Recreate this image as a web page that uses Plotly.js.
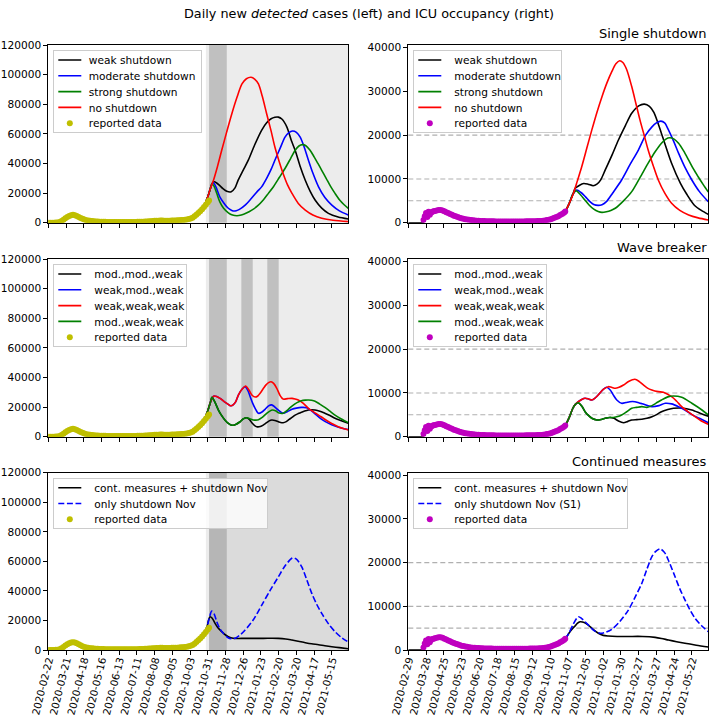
<!DOCTYPE html>
<html><head><meta charset="utf-8">
<script src="https://cdn.plot.ly/plotly-3.0.1.min.js"></script>
<style>html,body{margin:0;padding:0;background:#fff;}#chart{width:709px;height:721px;}</style>
</head><body><div id="chart"></div>
<script>
// ---------- dates ----------
const CASES_BASE = '2020-02-22';   // left column, days counted from here
const ICU_BASE = '2020-02-29';     // right column, days counted from here
const CASES_END = '2021-06-10';
const ICU_END = '2021-06-17';

// ---------- intervention periods (left panels) ----------
const modelStart = '2020-10-28';
const shutdownNov = ['2020-11-02', '2020-11-30'];
const waveBreakerExtra = [['2020-12-23', '2021-01-10'], ['2021-02-02', '2021-02-20']];
const continuedStart = '2020-11-02';
const icuLevels = [5000, 10000, 20000];

// ---------- reported data ----------
const reportedCasesDays = [0,3,6,9,12,15,18,21,24,27, 30,33,36,39,42,45,48,51,54,57, 60,63,66,69,72,75,78,81,84,87,
  90,93,96,99,102,105,108,111,114,117, 120,123,126,129,132,135,138,141,144,147, 150,153,156,159,162,165,168,171,174,177,
  180,183,186,189,192,195,198,201,204,207, 210,213,216,219,222,225,228,231,234,237, 240,243,246,249,252,254];
const reportedCases = [0,10,20,50,150,200,500,1100,2000,3000, 3900,4600,5100,5300,5100,4600,3900,3200,2600,2100, 1700,1450,1250,1100,950,850,780,700,640,600,
  560,520,500,480,470,460,450,460,480,500, 520,500,480,470,480,500,520,560,600,650, 700,780,860,950,1050,1150,1250,1350,1400,1450,
  1450,1400,1350,1350,1400,1450,1500,1550,1600,1700, 1800,1900,2000,2200,2500,2900,3300,4300,5400,6600, 7800,9100,10600,12200,13800,15000];

const reportedIcuDays = [24,26,28,30,32,34,36,38,40,42, 45,48,51,54,57,60,63,66,69,72, 75,78,81,84,87,90,93,96,99,102,
  105,108,111,114,117,120,123,126,129,132, 135,138,141,144,147,150,153,156,159,162, 165,168,171,174,177,180,183,186,189,192,
  195,198,201,204,207,210,213,216,219,222, 225,228,231,234,237,240,243,246,248];
const reportedIcu = [600,1500,2200,1300,2500,1800,2300,2500,2600,2700, 2800,2900,2900,2800,2600,2400,2200,2000,1800,1600, 1450,1300,1150,1000,900,800,720,650,590,540,
  500,460,430,400,380,360,350,340,330,320, 310,300,300,290,290,290,290,290,290,290, 290,290,290,300,300,300,300,310,310,320,
  320,330,340,360,380,410,450,510,590,690, 810,960,1120,1300,1500,1750,2000,2300,2550];

// model fit of ICU before the scenarios split (drawn with the black curve)
const icuFitDays = [0,20,23,25,28,33,40,48,56,65,75,90,110,140,180,200,215,228,240];
const icuFitVals = [0,0,50,700,1600,2200,2600,2850,2650,2000,1450,800,430,300,300,330,500,950,1750];

// ---------- Single shutdown : cases ----------
const ssCasesWeakDays = [247,252,256,259,262,266,271,276,282,289,295,300,308,316,326,337,345,352,358,363.5,369,377,384,390,398,406,414,421.5,432,442.6,458,474];
const ssCasesWeak     = [12000,17500,23000,26500,27600,26800,25000,23000,21200,20900,23500,28700,35500,42200,52500,62400,67500,70200,71200,71300,70000,64600,55500,48900,38000,28700,21000,15300,9800,6300,3800,2500];
const ssCasesModDays  = [247,252,256,259,261,265,271,277,282,287,292,297,302,311,320,330,337,345,352,358,366,374,380,386,392,398,404,411,418,427,437,448,460,474];
const ssCasesMod      = [12000,17500,23000,26500,27000,24000,17500,13500,10800,9000,7900,8100,9000,11900,16000,21000,24200,30000,36000,42200,50000,57800,60800,61900,61000,57800,51500,42200,33500,24200,17000,11900,8000,5200];
const ssCasesStrongDays = [247,252,256,258.5,262,266,271,277,284.5,291,298,305,313,321.5,331,340,347.7,356,365,374,383,390,396,401.5,407,413.6,420,426,432,439,446,453,460,467,474];
const ssCasesStrong     = [12000,17500,23000,26300,24500,20000,14100,9800,6700,5200,4700,5200,6500,8500,11500,15500,19800,24500,30500,36600,43500,48900,51800,52700,52000,48900,44500,40000,35400,30000,24500,19800,15500,12300,9700];
const ssCasesNoneDays = [247,252,256,261,267,274,282,290,298,306,313,320.4,326,332,338,345,352,358,365,371,378,385,395,406,418,432,450,474];
const ssCasesNone     = [12000,17500,23000,28700,37500,48900,61500,73600,84500,93700,97200,98200,97000,93700,85500,73600,62000,51100,41000,33200,25500,19800,13000,8500,5200,3000,1600,700];

// ---------- Single shutdown : ICU ----------
const ssIcuWeakDays = [248,254,260,264,270,277,284,292,298,304,311,322,332,343,353,364,373,381,388,400,416,430,440,452,463,474];
const ssIcuWeak     = [2550,4300,6500,7900,8500,8950,8800,8450,8800,9800,12000,15500,18900,22200,25000,26700,27100,26600,25200,20400,13600,9000,6500,4000,2800,1900];
const ssIcuModDays  = [248,254,260,266,273,280,287,293,300,306,313,323,337,350,363.5,375,385,392,399,405,411,419,427,437,448,460,474];
const ssIcuMod      = [2550,4300,6500,7450,6900,5900,4800,4150,3950,4100,4800,6800,9760,13200,16600,20000,21900,22800,23200,22800,21200,18700,15900,12700,9760,7100,4800];
const ssIcuStrongDays = [248,254,260,265,272,279,286,293,300,306,313,320,327,340,353,366,379,390,400,407,413,420,427,435,443,450,458,466,474];
const ssIcuStrong     = [2550,4300,6500,7300,6400,5200,4000,3100,2550,2350,2500,2800,3300,5000,7100,10300,13600,16200,18150,19100,19400,19100,18150,16400,14300,12400,10500,8700,7000];
const ssIcuNoneDays = [248,254,261,267,274,282,290,298,306,314,321.5,328,334,339,345,353,360,366,373,379,387,395,405,416,429,443,458,474];
const ssIcuNone     = [2550,4300,6720,9500,12800,17000,21200,25200,28800,32000,34500,36300,37000,36600,35000,31100,27000,23500,19800,16600,13000,9760,6800,4430,2800,1760,1100,620];

// ---------- Wave breaker : cases ----------
const wbCasesMMWDays = [247,252,256,258.5,263,268.8,274,279,284.5,290,296,303,308,313.5,318,322,326,329.4,333,337,341,345,349,353,358,363.5,367,371,376,380,385,390,395,400,405,411,416,421.5,429,437,445,453,463,474];
const wbCasesMMW     = [12000,17500,23000,26600,23500,18000,14200,11300,9000,7700,8300,10100,12000,12800,11500,9200,7500,6750,6700,7200,8300,9500,10700,11300,11000,10100,9600,9400,10200,11500,13000,14600,15600,16500,17300,18000,18200,18000,17200,15800,14300,12400,10800,9000];
const wbCasesWMWDays = [247,252,256,259.5,262,266,271.4,277,282,286,289,292,296,300.3,306,311,315,319,323,327,332,337,342.5,348,353,358,364,371,378,385,392,400,408,416,424,432,443,453,463,474];
const wbCasesWMW     = [12000,17500,23000,26500,27500,27200,25900,24000,22500,21300,20900,21500,23500,28100,32000,33800,31500,27000,22500,19000,15800,16500,18500,20800,21500,20000,17800,15800,17000,18500,19300,19800,19600,17500,14500,11700,9000,7200,5900,4800];
const wbCasesWWWDays = [247,252,256,259.5,262,266,271.4,277,282,286,289,292,296,300.3,306,312,317,322,327,331,335,340,344,348,352,356,361,366,371,378,385,390,395,403,411,419,427,435,443,451,458,466,474];
const wbCasesWWW     = [12000,17500,23000,26500,27500,27200,25900,24000,22500,21300,20900,21500,23500,28100,32000,34200,31500,28000,26800,27500,29500,32700,35000,36500,37100,36000,32700,28000,25400,25700,25900,25500,24800,22500,19200,16800,14600,12300,10100,8200,6750,5500,4500];
const wbCasesMWWDays = [247,252,256,258.5,263,268.8,274,279,284.5,290,296,303,308,313.5,319,324,328,332,338,345,350,354,359,363.5,371,378,385,393,400,406,411,416,421.5,429,437,445,453,463,474];
const wbCasesMWW     = [12000,17500,23000,26600,23500,18000,14200,11300,9000,7700,8300,10100,12000,12800,12000,11300,11200,11500,13000,15800,17300,18000,17500,16200,15800,18000,20700,23000,24300,24700,24800,24600,24000,22000,19800,17200,14600,12000,9500];

// ---------- Wave breaker : ICU ----------
const wbIcuMMWDays = [248,254,260,264,268.6,274,279.3,285,290,298,305,311,318,325,332,340,347,353,361,369,377,385,393,400,410,419,432,448,464,474];
const wbIcuMMW     = [2550,4300,6500,7400,7770,7000,5720,4800,4200,3820,3950,4200,4400,4200,3590,3200,3500,3820,3900,3970,4200,4570,5100,5720,6200,6490,6550,6100,5190,4700];
const wbIcuWMWDays = [248,254,260,264,268.6,274,279.3,285,290,295,300,308,313,319,324,329.4,337,344,350,358,365,371,378,384.7,396,406,416,427,437,448,460,474];
const wbIcuWMW     = [2550,4300,6500,7400,8000,8500,8780,8600,8390,8800,9530,10800,11300,10680,9500,8390,7630,7800,8000,8000,7700,7470,7100,6860,7100,7630,7500,6860,6100,5030,4200,3200];
const wbIcuWWWDays = [248,254,260,264,268.6,274,279.3,285,290,295,300,308,316,321,327,333,340,348,358,365,371.4,378,384.7,395,403,416,424,432,443,453,463,474];
const wbIcuWWW     = [2550,4300,6500,7400,8000,8500,8780,8600,8390,8800,9530,10800,11430,11300,11060,11300,11820,12600,13120,12600,11820,11100,10680,10300,10150,9140,8100,6860,5600,4570,3600,2830];
const wbIcuMWWDays = [248,254,260,264,268.6,274,279.3,285,290,298,305,311,318,324,331,337,345,353,361,369,377,385,393,400,410,419,432,448,464,474];
const wbIcuMWW     = [2550,4300,6500,7400,7770,7000,5720,4800,4200,3820,3950,4200,4400,4400,4600,4960,5700,6490,6700,6860,6700,7100,7800,8390,9100,9300,9000,7630,6100,5000];

// ---------- Continued measures : cases ----------
const cmCasesContDays = [247,251,253,255.6,259,263.5,268,274,279,284.5,292,300,311,340,363.5,375,385,395,406,416,427,437,448,460,474];
const cmCasesCont     = [12000,16000,20000,22500,21500,18000,15000,12400,10500,9000,7900,7800,7880,7900,7880,7500,6750,5900,4950,4200,3600,2900,2250,1600,900];
const cmCasesOnlyDays = [247,251,254,258.2,262,266.2,271,276.6,284,290,297,304,311,324,337.3,350,363.5,375,386,392,400.5,408,416.3,424,432,443,453,463,474];
const cmCasesOnly     = [12000,16000,21000,26300,24500,19100,14500,11300,8300,7600,8300,10500,13500,20500,30400,40000,49500,57500,62300,61500,56200,48000,38300,31000,24800,17500,12400,8500,5400];

// ---------- Continued measures : ICU ----------
const cmIcuContDays = [248,254,260,263.5,267,271.4,278,284.5,292,300.3,308,316,330,347.7,370,390,400,411,424,437,455,474];
const cmIcuCont     = [2550,3900,5000,5500,6100,6470,6300,5720,4700,3820,3350,3200,3100,3100,3100,2900,2650,2290,1900,1530,1100,690];
const cmIcuOnlyDays = [248,254,261,268.7,274,279.3,286,292.4,303,311,321.5,334,347.7,358,368.9,377,384.7,391,398,405,412,421.5,429,437.3,445,453.2,463,474];
const cmIcuOnly     = [2550,3900,6000,7620,7200,6470,5500,4570,3820,4000,4730,6500,9140,12000,15240,18500,21330,22600,23150,22300,20200,16760,14000,11430,9200,7240,5600,4190];

// ---------- helpers ----------
const FONT = 'DejaVu Sans, sans-serif';
const C = {k:'#000000', b:'#0000ff', g:'#008000', r:'#ff0000', y:'#bfbf00', m:'#bf00bf'};
function toDates(base, days){
  const b = Date.parse(base + 'T00:00:00Z');
  return days.map(d => new Date(b + d*86400000).toISOString().slice(0,19).replace('T',' '));
}
function line(base, days, vals, color, name, ax, leg, dash){
  return {type:'scatter', mode:'lines', x:toDates(base, days), y:vals, name:name,
    xaxis:'x'+ax, yaxis:'y'+ax, legend:leg,
    line:{color:color, width:1.6, shape:'spline', smoothing:0.8, dash:dash||'solid'}};
}
function dots(base, days, vals, color, ax, leg){
  return {type:'scatter', mode:'markers', x:toDates(base, days), y:vals, name:'reported data',
    xaxis:'x'+ax, yaxis:'y'+ax, legend:leg, cliponaxis:true,
    marker:{color:color, size:6, line:{width:0}}};
}
const DASH = '6px,2.6px';
const fitPlus = (d, v) => [icuFitDays.concat(d), icuFitVals.concat(v)];

const traces = [];
// row 1
traces.push(line(CASES_BASE, ssCasesWeakDays, ssCasesWeak, C.k, 'weak shutdown', '', 'legend'));
traces.push(line(CASES_BASE, ssCasesModDays, ssCasesMod, C.b, 'moderate shutdown', '', 'legend'));
traces.push(line(CASES_BASE, ssCasesStrongDays, ssCasesStrong, C.g, 'strong shutdown', '', 'legend'));
traces.push(line(CASES_BASE, ssCasesNoneDays, ssCasesNone, C.r, 'no shutdown', '', 'legend'));
traces.push(dots(CASES_BASE, reportedCasesDays, reportedCases, C.y, '', 'legend'));
let f = fitPlus(ssIcuWeakDays, ssIcuWeak);
traces.push(line(ICU_BASE, f[0], f[1], C.k, 'weak shutdown', '2', 'legend2'));
traces.push(line(ICU_BASE, ssIcuModDays, ssIcuMod, C.b, 'moderate shutdown', '2', 'legend2'));
traces.push(line(ICU_BASE, ssIcuStrongDays, ssIcuStrong, C.g, 'strong shutdown', '2', 'legend2'));
traces.push(line(ICU_BASE, ssIcuNoneDays, ssIcuNone, C.r, 'no shutdown', '2', 'legend2'));
traces.push(dots(ICU_BASE, reportedIcuDays, reportedIcu, C.m, '2', 'legend2'));
// row 2
traces.push(line(CASES_BASE, wbCasesMMWDays, wbCasesMMW, C.k, 'mod.,mod.,weak', '3', 'legend3'));
traces.push(line(CASES_BASE, wbCasesWMWDays, wbCasesWMW, C.b, 'weak,mod.,weak', '3', 'legend3'));
traces.push(line(CASES_BASE, wbCasesWWWDays, wbCasesWWW, C.r, 'weak,weak,weak', '3', 'legend3'));
traces.push(line(CASES_BASE, wbCasesMWWDays, wbCasesMWW, C.g, 'mod.,weak,weak', '3', 'legend3'));
traces.push(dots(CASES_BASE, reportedCasesDays, reportedCases, C.y, '3', 'legend3'));
f = fitPlus(wbIcuMMWDays, wbIcuMMW);
traces.push(line(ICU_BASE, f[0], f[1], C.k, 'mod.,mod.,weak', '4', 'legend4'));
traces.push(line(ICU_BASE, wbIcuWMWDays, wbIcuWMW, C.b, 'weak,mod.,weak', '4', 'legend4'));
traces.push(line(ICU_BASE, wbIcuWWWDays, wbIcuWWW, C.r, 'weak,weak,weak', '4', 'legend4'));
traces.push(line(ICU_BASE, wbIcuMWWDays, wbIcuMWW, C.g, 'mod.,weak,weak', '4', 'legend4'));
traces.push(dots(ICU_BASE, reportedIcuDays, reportedIcu, C.m, '4', 'legend4'));
// row 3
traces.push(line(CASES_BASE, cmCasesContDays, cmCasesCont, C.k, 'cont. measures + shutdown Nov', '5', 'legend5'));
traces.push(line(CASES_BASE, cmCasesOnlyDays, cmCasesOnly, C.b, 'only shutdown Nov', '5', 'legend5', DASH));
traces.push(dots(CASES_BASE, reportedCasesDays, reportedCases, C.y, '5', 'legend5'));
f = fitPlus(cmIcuContDays, cmIcuCont);
traces.push(line(ICU_BASE, f[0], f[1], C.k, 'cont. measures + shutdown Nov', '6', 'legend6'));
traces.push(line(ICU_BASE, cmIcuOnlyDays, cmIcuOnly, C.b, 'only shutdown Nov (S1)', '6', 'legend6', DASH));
traces.push(dots(ICU_BASE, reportedIcuDays, reportedIcu, C.m, '6', 'legend6'));

// ---------- layout ----------
const W = 709, H = 721;
const colX = [[48.3/W, 348.3/W], [408.3/W, 708.3/W]];
const rowY = [[1-222.7/H, 1-45/H], [1-436.7/H, 1-259/H], [1-650/H, 1-472.7/H]];
const DAY = 86400000;
const axCommon = {showline:true, linecolor:'#000', linewidth:1, mirror:true, ticks:'outside', ticklen:4,
  tickwidth:1, tickcolor:'#000', showgrid:false, zeroline:false, fixedrange:true,
  tickfont:{family:FONT, size:10.6, color:'#000'}};

const layout = {width:W, height:H, margin:{l:0, r:0, t:0, b:0}, paper_bgcolor:'#fff', plot_bgcolor:'rgba(0,0,0,0)',
  font:{family:FONT, color:'#000'}, showlegend:true,
  title:{text:'Daily new <i>detected</i> cases (left) and ICU occupancy (right)', x:369/W, xanchor:'center',
    y:1-14/H, yanchor:'middle', font:{family:FONT, size:12.8, color:'#000'}},
  shapes:[], annotations:[]};

const names = ['', '2', '3', '4', '5', '6'];
for (let r = 0; r < 3; r++) {
  for (let c = 0; c < 2; c++) {
    const i = r*2 + c, n = names[i];
    const isLeft = c === 0;
    layout['xaxis' + n] = Object.assign({}, axCommon, {type:'date', domain:colX[c], anchor:'y' + n,
      range: isLeft ? [CASES_BASE, CASES_END] : [ICU_BASE, ICU_END],
      tick0: isLeft ? CASES_BASE : ICU_BASE, dtick: 28*DAY, tickformat:'%Y-%m-%d',
      showticklabels: r === 2, tickangle:-76, ticklabelstandoff:-5,
      tickfont:{family:FONT, size:10.2, color:'#000'}});
    layout['yaxis' + n] = Object.assign({}, axCommon, {domain:rowY[r], anchor:'x' + n,
      range: isLeft ? [0, 120000] : [0, 40600], dtick: isLeft ? 20000 : 10000, tickformat:'d'});
    const legKey = i === 0 ? 'legend' : 'legend' + (i + 1);
    layout[legKey] = {x: (colX[c][0]*W + 5)/W, y: rowY[r][1] - 5/H, xanchor:'left', yanchor:'top',
      bgcolor:'rgba(255,255,255,0.8)', bordercolor:'#cccccc', borderwidth:1,
      font:{family:FONT, size:10.6, color:'#000'}, tracegroupgap:0};
  }
}

// shading on left panels
const xr = n => ({xref:'x' + n, yref:'y' + n + ' domain', y0:0, y1:1, layer:'below', line:{width:0}, type:'rect'});
const light = 'rgba(128,128,128,0.15)', dark = 'rgba(128,128,128,0.4)';
['', '3', '5'].forEach(n => {
  layout.shapes.push(Object.assign(xr(n), {x0:modelStart, x1:CASES_END, fillcolor:light}));
  if (n === '5') layout.shapes.push(Object.assign(xr(n), {x0:continuedStart, x1:CASES_END, fillcolor:light}));
  layout.shapes.push(Object.assign(xr(n), {x0:shutdownNov[0], x1:shutdownNov[1], fillcolor:dark}));
});
waveBreakerExtra.forEach(p => layout.shapes.push(Object.assign(xr('3'), {x0:p[0], x1:p[1], fillcolor:dark})));

// ICU reference levels on right panels
['2', '4', '6'].forEach(n => icuLevels.forEach(v => layout.shapes.push({type:'line', xref:'x' + n + ' domain', x0:0, x1:1,
  yref:'y' + n, y0:v, y1:v, layer:'below', line:{color:'#b0b0b0', width:1.1, dash:'5px,3px'}})));

// panel titles
const panelTitles = ['Single shutdown', 'Wave breaker', 'Continued measures'];
panelTitles.forEach((t, r) => layout.annotations.push({text:t, xref:'paper', yref:'paper', x:1, y:rowY[r][1],
  xanchor:'right', yanchor:'bottom', yshift:2, showarrow:false, font:{family:FONT, size:13, color:'#000'}}));

// compact legend rows (matplotlib-like spacing)
function compactLegends(){
  const ROW = 15.8, SHIFT = 5.5, LIFT = 5.5, PAD = 18.5;
  document.querySelectorAll('g.infolayer > g').forEach(leg => {
    const bg = leg.querySelector(':scope > rect.bg');
    const items = Array.from(leg.querySelectorAll('g.traces'));
    if (!bg || !items.length) return;
    const pos = items.map(it => {
      const m = /translate\(\s*([-\d.e]+)[ ,]+([-\d.e]+)\s*\)/.exec(it.getAttribute('transform') || '');
      return m ? [parseFloat(m[1]), parseFloat(m[2])] : [0, 0];
    });
    const top = pos[0][1] - LIFT;
    items.forEach((it, k) => {
      it.setAttribute('transform', 'translate(' + pos[k][0] + ',' + (top + k*ROW) + ')');
      it.querySelectorAll('path.js-line').forEach(p => p.setAttribute('d', 'M4,0h23'));
      it.querySelectorAll('path.scatterpts').forEach(p => p.setAttribute('transform', 'translate(15.5,0)'));
      it.querySelectorAll('text.legendtext').forEach(t => {
        t.setAttribute('x', parseFloat(t.getAttribute('x') || 40) - SHIFT);
        t.querySelectorAll('tspan').forEach(s => { if (s.getAttribute('x')) s.setAttribute('x', parseFloat(s.getAttribute('x')) - SHIFT); });
      });
    });
    const w = parseFloat(bg.getAttribute('width'));
    bg.setAttribute('height', PAD + (items.length - 1)*ROW);
    bg.setAttribute('width', w - SHIFT);
  });
}

Plotly.newPlot('chart', traces, layout, {staticPlot:true, displayModeBar:false}).then(compactLegends);
</script></body></html>
